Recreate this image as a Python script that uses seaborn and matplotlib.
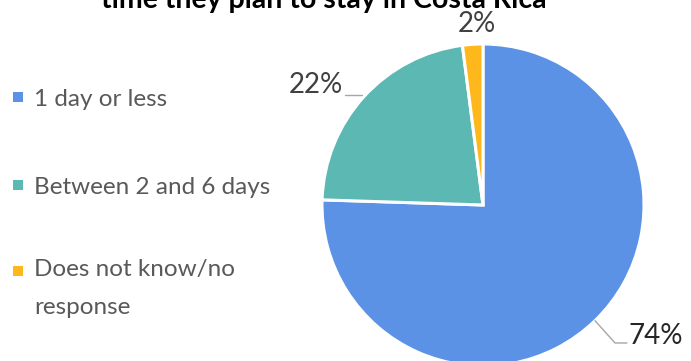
import matplotlib
matplotlib.use("Agg")
import matplotlib.pyplot as plt
from matplotlib.patches import Rectangle
import numpy as np
import seaborn as sns

categories = ["1 day or less", "Between 2 and 6 days", "Does not know/no\nresponse"]
values = [74, 22, 2]
pct_labels = ["74%", "22%", "2%"]
colors = ["#5B92E5", "#5CB8B2", "#FFB81C"]
title = "time they plan to stay in Costa Rica"

sns.set_theme(style="white")
plt.rcParams["font.family"] = ["Lato", "DejaVu Sans"]

W, H = 691, 361
fig = plt.figure(figsize=(W / 100, H / 100), dpi=100)
fig.patch.set_facecolor("white")

# pie axes: center (483,205) radius 161 px
cx, cy, r = 483, 205, 161
ax = fig.add_axes([(cx - r) / W, (H - cy - r) / H, 2 * r / W, 2 * r / H])
wedges, _ = ax.pie(values, colors=colors, startangle=90, counterclock=False,
                   radius=1.0, wedgeprops=dict(edgecolor="white", linewidth=2.2))
ax.set_xlim(-1, 1)
ax.set_ylim(-1, 1)
ax.set_aspect("equal")
ax.axis("off")

def mid(w):
    return np.deg2rad((w.theta1 + w.theta2) / 2)

lab_color = "#404040"
fs = 20
# 74%
a = mid(wedges[0])
p = (np.cos(a), np.sin(a))
ax.plot([p[0], 0.82, 0.894], [p[1], -0.857, -0.857], color="#A6A6A6", lw=1, clip_on=False)
ax.text(0.905, -0.865, pct_labels[0], ha="left", va="baseline", fontsize=fs,
        color="#262626", clip_on=False)
# 22%
ax.plot([-0.75, -0.857], [0.683, 0.683], color="#A6A6A6", lw=1, clip_on=False)
ax.text(-0.87, 0.695, pct_labels[1], ha="right", va="baseline", fontsize=fs,
        color=lab_color, clip_on=False)
# 2%
ax.text(-0.04, 1.075, pct_labels[2], ha="center", va="baseline", fontsize=fs,
        color=lab_color, clip_on=False)

# legend (manual)
leg_y = [97, 185, 271]
for lbl, col, y in zip(categories, colors, leg_y):
    fig.patches.append(Rectangle((13 / W, (H - y - 5) / H), 10 / W, 10 / H,
                                 transform=fig.transFigure, facecolor=col,
                                 edgecolor="none"))
    if "\n" in lbl:
        fig.text(34 / W, (H - 259) / H, lbl, ha="left", va="top",
                 fontsize=17.5, color="#595959", linespacing=2.0)
    else:
        fig.text(34 / W, (H - y) / H, lbl, ha="left", va="center_baseline",
                 fontsize=17.5, color="#595959")

# title (cut off at the top edge, as in the reference)
fig.text(324 / W, (H - 8) / H, title, ha="center", va="baseline", fontsize=20.5,
         fontweight="bold", color="black")

fig.savefig("out.png", dpi=100, facecolor="white")
